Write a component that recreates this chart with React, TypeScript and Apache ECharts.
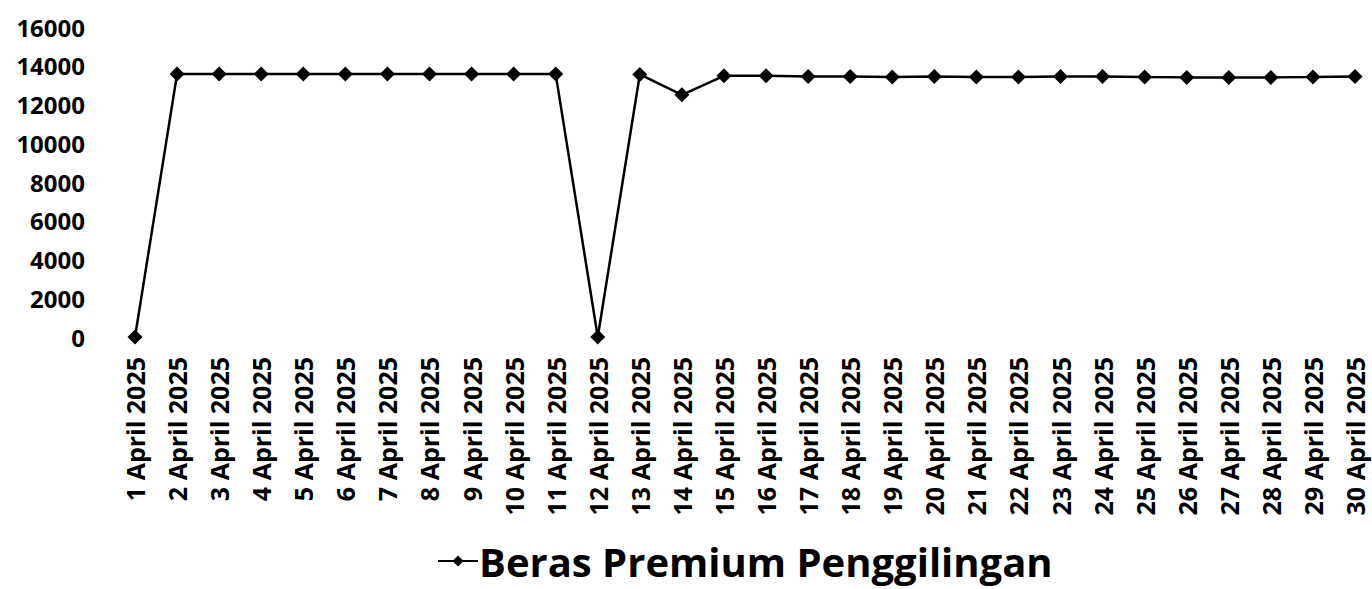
import React, { useEffect, useRef } from "react";
import * as echarts from "echarts";

const categories: string[] = [
  "1 April 2025", "2 April 2025", "3 April 2025", "4 April 2025", "5 April 2025",
  "6 April 2025", "7 April 2025", "8 April 2025", "9 April 2025", "10 April 2025",
  "11 April 2025", "12 April 2025", "13 April 2025", "14 April 2025", "15 April 2025",
  "16 April 2025", "17 April 2025", "18 April 2025", "19 April 2025", "20 April 2025",
  "21 April 2025", "22 April 2025", "23 April 2025", "24 April 2025", "25 April 2025",
  "26 April 2025", "27 April 2025", "28 April 2025", "29 April 2025", "30 April 2025",
];

const seriesName = "Beras Premium Penggilingan";

const values: number[] = [
  0, 13570, 13580, 13570, 13580, 13570, 13570, 13570, 13570, 13570,
  13570, 0, 13550, 12500, 13480, 13480, 13450, 13450, 13420, 13450,
  13420, 13420, 13450, 13450, 13420, 13400, 13400, 13400, 13420, 13450,
];

const yMin = 0;
const yMax = 16000;
const yInterval = 2000;

const FONT = "'Open Sans', sans-serif";

export default function App() {
  const ref = useRef<HTMLDivElement>(null);

  useEffect(() => {
    if (!ref.current) return;
    const chart = echarts.init(ref.current, undefined, { renderer: "svg" });
    chart.setOption({
      animation: false,
      backgroundColor: "#ffffff",
      grid: { left: 135, right: 17, top: 27, bottom: 252, containLabel: false },
      legend: {
        show: true,
        top: 534,
        left: 432,
        itemWidth: 40,
        itemHeight: 14,
        itemGap: 4,
        textStyle: {
          fontFamily: FONT,
          fontWeight: "bold",
          fontSize: 40,
          lineHeight: 44,
          color: "#000",
          padding: [0, 0, 0, -4],
        },
        data: [seriesName],
      },
      xAxis: {
        type: "category",
        data: categories,
        boundaryGap: false,
        axisLine: { show: false },
        axisTick: { show: false },
        splitLine: { show: false },
        axisLabel: {
          interval: 0,
          rotate: 90,
          margin: 20,
          fontFamily: FONT,
          fontWeight: "bold",
          fontSize: 25,
          color: "#000",
        },
      },
      yAxis: {
        type: "value",
        min: yMin,
        max: yMax,
        interval: yInterval,
        axisLine: { show: false },
        axisTick: { show: false },
        splitLine: { show: false },
        axisLabel: {
          margin: 50,
          fontFamily: FONT,
          fontWeight: "bold",
          fontSize: 24,
          color: "#000",
          formatter: (v: number) => String(v),
        },
      },
      series: [
        {
          name: seriesName,
          type: "line",
          data: values,
          symbol: "diamond",
          symbolSize: 15,
          showSymbol: true,
          lineStyle: { color: "#000", width: 2.5 },
          itemStyle: { color: "#000" },
        },
      ],
    });
    return () => chart.dispose();
  }, []);

  return (
    <div
      ref={ref}
      style={{ position: "fixed", left: 0, top: 0, width: 1372, height: 589, background: "#fff" }}
    />
  );
}
